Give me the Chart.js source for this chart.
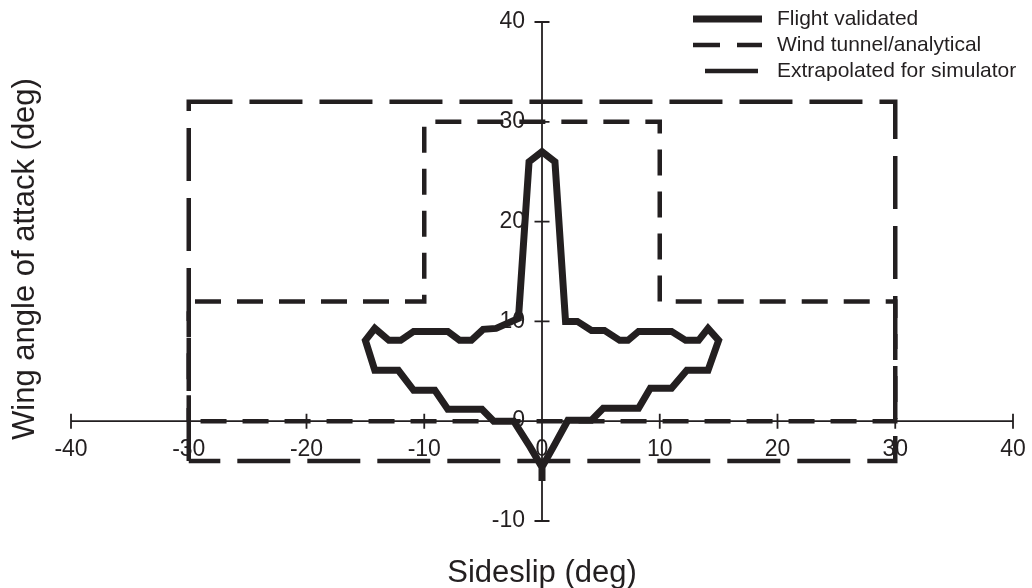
<!DOCTYPE html>
<html>
<head>
<meta charset="utf-8">
<script src="https://cdn.jsdelivr.net/npm/chart.js@4/dist/chart.umd.min.js"></script>
<style>
  html, body { margin: 0; padding: 0; background: #fff; }
  #wrap { width: 1032px; height: 588px; }
</style>
</head>
<body>
<div id="wrap"><canvas id="chartEnvelope" width="1032" height="588"></canvas></div>
<script>
const INK = '#231f20';
const FONT = '"Liberation Sans", Arial, Helvetica, sans-serif';

const xTicks = [-40, -30, -20, -10, 0, 10, 20, 30, 40];
const yTicks = [-10, 0, 10, 20, 30, 40];

const flightSideslip = [0, 0, -1, -2.4, -4.1, -5.1, -8, -9.1, -10.9, -12.2, -14.2, -15, -14.2, -13, -12, -10.9, -8, -7, -6, -5, -3.9, -2, -1.1, 0, 1.1, 2, 3, 4.2, 5.3, 6.6, 7.3, 8.2, 11, 12.2, 13.3, 14.1, 15, 14.1, 12.3, 11, 9.2, 8.2, 5.2, 4.2, 2.2, 1, 0];
const flightAlpha = [-6, -4.6, -2.6, 0, 0, 1.2, 1.2, 3.1, 3.1, 5.1, 5.1, 8.1, 9.3, 8.1, 8.1, 9, 9, 8.1, 8.1, 9.2, 9.3, 10.3, 26, 27, 26, 10, 10, 9.1, 9.1, 8.1, 8.1, 9, 9, 8.1, 8.1, 9.3, 8.1, 5.1, 5.1, 3.3, 3.3, 1.3, 1.3, 0.1, 0.1, -2.5, -4.6];

const tunnelSideslip = [-30, -30, -10, -10, 10, 10, 30, 30, -30];
const tunnelAlpha = [0, 12, 12, 30, 30, 12, 12, 0, 0];

const simSideslip = [-30, -30, 30, 30, -30];
const simAlpha = [-4, 32, 32, -4, -4];

const toPoints = (xs, ys) => xs.map((x, i) => ({ x, y: ys[i] }));

const series = [
  { label: 'Flight validated', data: toPoints(flightSideslip, flightAlpha), borderWidth: 7, borderDash: [], order: 0 },
  { label: 'Wind tunnel/analytical', data: toPoints(tunnelSideslip, tunnelAlpha), borderWidth: 4.5, borderDash: [26, 16], order: 1 },
  { label: 'Extrapolated for simulator', data: toPoints(simSideslip, simAlpha), borderWidth: 4.5, borderDash: [53, 17], order: 2 },
];

// axes cross at the origin, so draw them by hand from the scales
const crossAxes = {
  id: 'crossAxes',
  beforeDatasetsDraw(chart) {
    const { ctx, scales: { x, y } } = chart;
    const x0 = x.getPixelForValue(0);
    const y0 = y.getPixelForValue(0);
    ctx.save();
    ctx.strokeStyle = INK;
    ctx.fillStyle = INK;
    ctx.lineWidth = 1.8;
    ctx.beginPath();
    ctx.moveTo(x.getPixelForValue(xTicks[0]), y0);
    ctx.lineTo(x.getPixelForValue(xTicks[xTicks.length - 1]), y0);
    ctx.moveTo(x0, y.getPixelForValue(yTicks[0]));
    ctx.lineTo(x0, y.getPixelForValue(yTicks[yTicks.length - 1]));
    xTicks.forEach((v) => {
      if (v === 0) return;
      const px = x.getPixelForValue(v);
      ctx.moveTo(px, y0 - 7.5);
      ctx.lineTo(px, y0 + 7.5);
    });
    yTicks.forEach((v) => {
      if (v === 0) return;
      const py = y.getPixelForValue(v);
      ctx.moveTo(x0 - 7.5, py);
      ctx.lineTo(x0 + 7.5, py);
    });
    ctx.stroke();

    ctx.font = `23px ${FONT}`;
    ctx.textAlign = 'center';
    ctx.textBaseline = 'middle';
    xTicks.forEach((v) => {
      ctx.fillText(String(v), x.getPixelForValue(v), y0 + 28);
    });
    ctx.textAlign = 'right';
    yTicks.forEach((v) => {
      ctx.fillText(String(v), x0 - 17, v === 0 ? y0 - 1 : y.getPixelForValue(v));
    });

    ctx.font = `31px ${FONT}`;
    ctx.textAlign = 'center';
    ctx.textBaseline = 'alphabetic';
    ctx.fillText('Sideslip (deg)', x0, 582);
    ctx.translate(34, 259);
    ctx.rotate(-Math.PI / 2);
    ctx.fillText('Wing angle of attack (deg)', 0, 0);
    ctx.restore();
  },
  afterDraw(chart) {
    const { ctx } = chart;
    const rows = [
      { y: 19, segs: [[693, 762]], w: 7 },
      { y: 45, segs: [[693, 720], [737, 762]], w: 4.5 },
      { y: 71, segs: [[705, 758]], w: 4.5 },
    ];
    ctx.save();
    ctx.strokeStyle = INK;
    ctx.fillStyle = INK;
    ctx.font = `21px ${FONT}`;
    ctx.textBaseline = 'middle';
    ctx.textAlign = 'left';
    rows.forEach((row, i) => {
      ctx.lineWidth = row.w;
      ctx.beginPath();
      row.segs.forEach(([a, b]) => {
        ctx.moveTo(a, row.y);
        ctx.lineTo(b, row.y);
      });
      ctx.stroke();
      ctx.fillText(series[i].label, 777, row.y);
    });
    ctx.restore();
  },
};

new Chart(document.getElementById('chartEnvelope').getContext('2d'), {
  type: 'scatter',
  data: {
    datasets: series.map((s) => ({
      label: s.label,
      data: s.data,
      showLine: true,
      borderColor: INK,
      backgroundColor: INK,
      borderWidth: s.borderWidth,
      borderDash: s.borderDash,
      borderJoinStyle: 'miter',
      borderCapStyle: 'butt',
      pointRadius: 0,
      tension: 0,
      order: s.order,
    })),
  },
  options: {
    responsive: false,
    devicePixelRatio: 1,
    animation: false,
    layout: { padding: { left: 71, right: 19, top: 22, bottom: 67 } },
    scales: {
      x: { type: 'linear', min: -40, max: 40, display: false },
      y: { type: 'linear', min: -10, max: 40, display: false },
    },
    plugins: {
      legend: { display: false },
      tooltip: { enabled: false },
    },
  },
  plugins: [crossAxes],
});
</script>
</body>
</html>
